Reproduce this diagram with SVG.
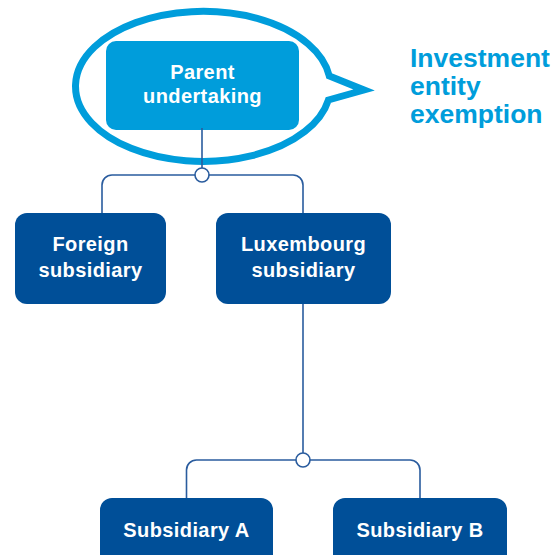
<svg xmlns="http://www.w3.org/2000/svg" width="558" height="555" viewBox="0 0 558 555">
  <style>
    .box { fill: #004f98; }
    .parent { fill: #009ddb; }
    .lbl { font-family: "Liberation Sans", Arial, sans-serif; font-weight: bold; font-size: 20px; fill: #ffffff; text-anchor: middle; letter-spacing: 0.4px; }
    .note { font-family: "Liberation Sans", Arial, sans-serif; font-weight: bold; font-size: 26.5px; fill: #009ddb; }
    .conn { fill: none; stroke: #2a5c9e; stroke-width: 1.6; }
    .joint { fill: #ffffff; stroke: #2a5c9e; stroke-width: 1.6; }
  </style>
  <rect width="558" height="555" fill="#ffffff"/>

  <g id="bubble">
    <path d="M329.3,76 A127.5,75 0 1 0 328.4,100 L364,90 Z" fill="none" stroke="#009ddb" stroke-width="7" stroke-linejoin="miter"/>
  </g>

  <g id="note">
    <text class="note" x="410" y="67">Investment</text>
    <text class="note" x="410" y="95">entity</text>
    <text class="note" x="410" y="123">exemption</text>
  </g>

  <g id="parent">
    <rect class="parent" x="106" y="41" width="193" height="89" rx="10"/>
    <text class="lbl" x="202.5" y="79">Parent</text>
    <text class="lbl" x="202.5" y="103">undertaking</text>
  </g>

  <g id="foreign">
    <rect class="box" x="15" y="213" width="151" height="91" rx="12"/>
    <text class="lbl" x="90.5" y="251">Foreign</text>
    <text class="lbl" x="90.5" y="277">subsidiary</text>
  </g>

  <g id="luxembourg">
    <rect class="box" x="216" y="213" width="175" height="91" rx="12"/>
    <text class="lbl" x="303.5" y="251">Luxembourg</text>
    <text class="lbl" x="303.5" y="277">subsidiary</text>
  </g>

  <g id="subA">
    <rect class="box" x="100" y="498" width="173" height="91" rx="12"/>
    <text class="lbl" x="186.5" y="537">Subsidiary A</text>
  </g>

  <g id="subB">
    <rect class="box" x="333" y="498" width="174" height="91" rx="12"/>
    <text class="lbl" x="420" y="537">Subsidiary B</text>
  </g>

  <g id="connectors">
    <path class="conn" d="M202,128 V168"/>
    <path class="conn" d="M102,213 V185 A10,10 0 0 1 112,175 H293 A10,10 0 0 1 303,185 V213"/>
    <circle class="joint" cx="202" cy="175" r="7"/>
    <path class="conn" d="M303,304 V453"/>
    <path class="conn" d="M186.5,498 V470 A10,10 0 0 1 196.5,460 H410 A10,10 0 0 1 420,470 V498"/>
    <circle class="joint" cx="303" cy="460" r="7"/>
  </g>
</svg>
